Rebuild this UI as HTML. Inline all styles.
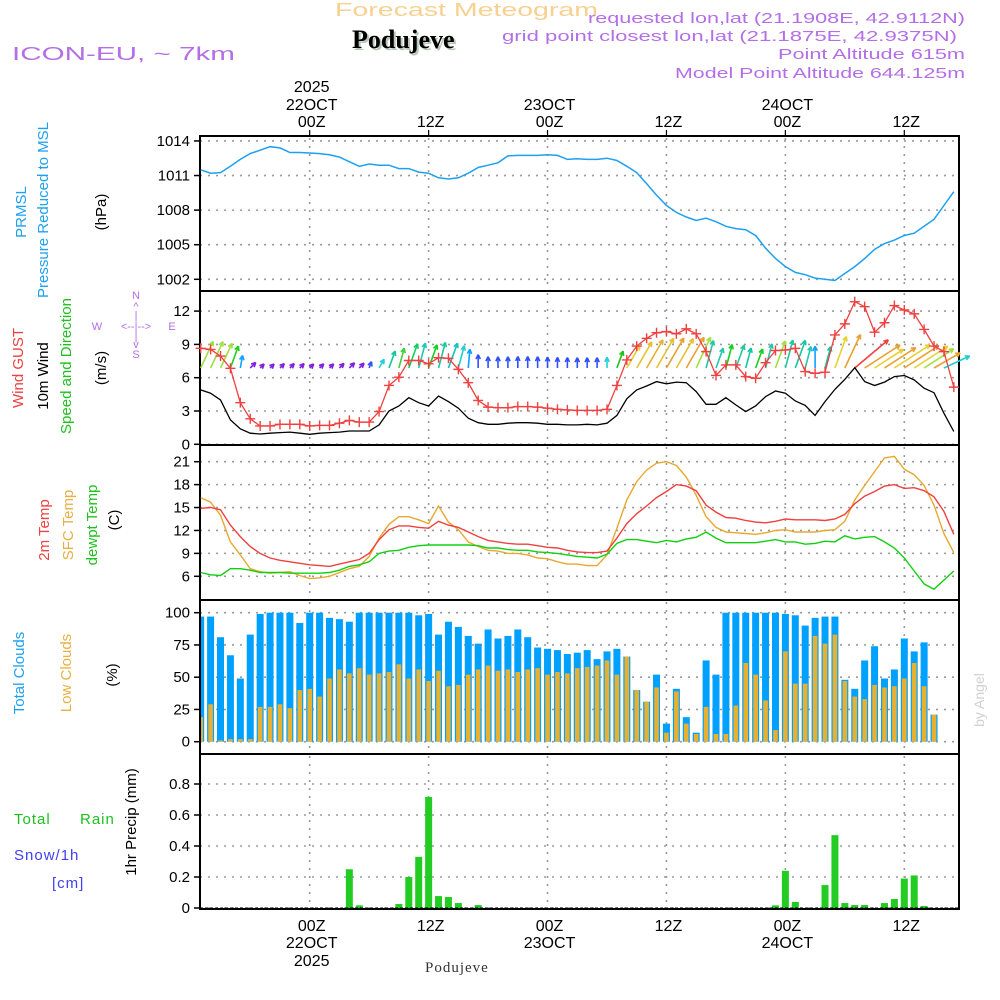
<!DOCTYPE html>
<html><head><meta charset="utf-8"><title>Forecast Meteogram Podujeve</title>
<style>
html,body{margin:0;padding:0;background:#fff;}
svg{display:block;font-family:"Liberation Sans",sans-serif;}
</style></head>
<body>
<svg id="chart" width="1000" height="1000" viewBox="0 0 1000 1000" xmlns="http://www.w3.org/2000/svg">
<rect x="0" y="0" width="1000" height="1000" fill="#fff"/>
<text x="335" y="16" font-size="18" fill="#f8d090" textLength="263" lengthAdjust="spacingAndGlyphs">Forecast Meteogram</text>
<text x="354" y="50" font-size="26" font-weight="bold" font-family="Liberation Serif,serif" fill="#b8c8b8">Podujeve</text>
<text x="352" y="48" font-size="26" font-weight="bold" font-family="Liberation Serif,serif" fill="#000">Podujeve</text>
<g fill="#b46ee6" font-size="15">
<text x="588" y="23" textLength="377" lengthAdjust="spacingAndGlyphs">requested lon,lat (21.1908E, 42.9112N)</text>
<text x="502" y="41" textLength="455" lengthAdjust="spacingAndGlyphs">grid point closest lon,lat (21.1875E, 42.9375N)</text>
<text x="778" y="59" textLength="187" lengthAdjust="spacingAndGlyphs">Point Altitude 615m</text>
<text x="675" y="78" textLength="290" lengthAdjust="spacingAndGlyphs">Model Point Altitude 644.125m</text>
</g>
<text x="12" y="60" font-size="18" fill="#b46ee6" textLength="223" lengthAdjust="spacingAndGlyphs">ICON-EU, ~ 7km</text>
<g id="axes"></g>
<g id="plots"></g>
<g id="labels" font-size="14"></g>
</svg>
<script>
// ---- data (hourly from hour -11 relative to 22OCT 00Z) ----
const startHour = -11;
const pressure = [1011.5,1011.2,1011.25,1011.8,1012.4,1012.9,1013.2,1013.5,1013.4,1013.0,1013.0,
1012.95,1012.9,1012.8,1012.6,1012.2,1011.8,1012.0,1011.9,1011.9,1011.6,1011.6,1011.3,
1011.2,1010.8,1010.7,1010.8,1011.2,1011.7,1011.9,1012.1,1012.7,1012.75,1012.75,1012.75,
1012.8,1012.75,1012.4,1012.45,1012.4,1012.4,1012.5,1012.3,1011.8,1011.25,1010.3,1009.3,
1008.4,1007.8,1007.4,1007.1,1007.3,1007.0,1006.6,1006.4,1006.3,1005.8,1004.7,1003.8,
1003.1,1002.6,1002.4,1002.1,1002.0,1001.9,1002.5,1003.1,1003.8,1004.6,1005.1,1005.4,
1005.8,1006.0,1006.6,1007.2,1008.4,1009.6];
const wind10m = [4.9,4.6,4.0,2.2,1.4,1.0,0.93,1.0,1.05,1.1,1.0,
0.9,1.0,1.05,1.1,1.2,1.2,1.2,1.75,3.0,3.45,4.2,3.75,
3.45,4.35,3.85,3.25,2.35,1.95,1.8,1.8,1.9,1.95,1.95,1.9,
1.8,1.8,1.75,1.75,1.8,1.75,1.9,2.6,4.1,4.9,5.25,5.65,
5.45,5.6,5.55,4.75,3.6,3.6,4.2,3.55,2.95,3.45,4.3,4.8,
4.6,3.9,3.5,2.6,3.85,4.95,5.85,6.9,5.65,5.3,5.6,6.1,
6.2,5.8,5.05,4.65,2.8,1.15];
const gust = [8.65,8.55,7.95,6.85,3.75,2.3,1.65,1.65,1.8,1.8,1.8,
1.65,1.7,1.7,1.9,2.15,2.0,2.0,2.95,5.3,6.05,7.55,7.55,
7.25,7.8,7.75,6.75,5.55,3.95,3.35,3.3,3.3,3.4,3.4,3.35,
3.25,3.15,3.1,3.05,3.05,3.05,3.15,5.3,7.6,8.85,9.55,10.05,
10.15,9.95,10.4,9.95,8.35,6.2,7.15,7.15,6.1,5.95,7.35,8.45,
8.5,8.65,6.55,6.4,6.5,9.85,10.85,12.85,12.4,10.1,10.95,12.5,
12.1,11.75,10.35,8.85,8.35,5.15];
const windDir = [25,25,25,20,10,45,45,45,45,45,45,
45,45,45,45,45,45,20,30,20,15,20,15,
20,15,20,15,5,0,0,0,0,0,0,0,
0,0,0,0,0,0,0,20,30,30,30,30,
30,30,30,25,15,20,15,20,15,20,15,20,
15,20,15,0,15,20,25,50,57,57,57,57,
57,57,57,60,65,70];
const windColor = ['#a0e040','#a0e040','#a0e040','#20d020','#10a0ff','#8020e0','#8020e0','#8020e0','#8020e0','#8020e0','#8020e0',
'#8020e0','#8020e0','#8020e0','#8020e0','#8020e0','#8020e0','#3050ff','#20d0d0','#10c8a0','#40d040','#10d060','#20c8b0',
'#10d020','#20c8a0','#10c0c0','#20d0d0','#10a0ff','#3050ff','#3050ff','#3050ff','#3050ff','#3050ff','#3050ff','#3050ff',
'#3050ff','#3050ff','#3050ff','#3050ff','#3050ff','#3050ff','#20d0d0','#20c020','#e8d030','#e8c030','#e8b030','#e8c030',
'#e8a030','#e8c030','#e8a030','#a0e040','#20c8a0','#20c8b0','#10d020','#20c8a0','#10c8a0','#10d020','#20c8b0','#a0e040',
'#20c8a0','#10c8a0','#20c8b0','#10a0ff','#10c8a0','#e8d030','#e8a030','#f04040','#e8a030','#e8d030','#e8a030','#e8d030',
'#e8a030','#e8d030','#a0e040','#e8a030','#20d0d0','#20d0d0'];
const temp2m = [14.9,15.0,14.7,12.7,11.2,9.9,9.0,8.4,8.1,7.9,7.7,
7.5,7.4,7.3,7.6,7.9,8.2,9.0,10.8,12.1,12.6,12.6,12.4,
12.3,13.2,12.7,12.4,11.8,11.2,10.7,10.5,10.3,10.2,10.2,10.0,
9.8,9.7,9.4,9.2,9.1,9.1,9.3,11.0,12.9,14.2,15.2,16.3,
17.1,18.0,17.8,17.2,15.3,14.4,13.7,13.6,13.3,13.1,13.0,13.2,
13.5,13.4,13.4,13.4,13.3,13.5,14.1,15.5,16.5,17.1,17.8,18.0,
17.5,17.6,17.2,16.4,14.5,11.5];
const tempSfc = [16.3,15.7,14.0,10.5,8.8,7.0,6.6,6.4,6.5,6.6,6.1,
5.7,5.8,6.0,6.5,7.0,7.3,8.6,11.0,12.8,13.8,13.8,13.4,
12.9,15.2,13.1,12.1,10.5,9.9,9.4,9.3,9.0,9.0,8.8,8.4,
8.3,7.9,7.6,7.6,7.4,7.4,8.8,12.3,16.0,18.4,19.9,20.8,
21.0,20.5,19.0,16.6,13.8,12.4,11.8,11.7,11.6,11.5,11.7,12.0,
12.1,11.8,11.8,11.8,12.0,12.1,13.2,16.0,17.9,19.7,21.5,21.7,
20.0,19.3,17.9,15.3,11.6,9.1];
const dewpt = [6.5,6.2,6.1,7.0,7.0,6.8,6.5,6.5,6.5,6.4,6.4,
6.4,6.4,6.5,6.8,7.3,7.5,7.9,9.0,9.3,9.4,9.8,10.0,
10.1,10.1,10.1,10.1,10.1,10.0,9.7,9.7,9.5,9.4,9.4,9.2,
9.1,9.0,8.8,8.6,8.5,8.4,8.9,10.3,10.8,10.8,10.6,10.4,
10.7,10.5,10.9,11.1,11.8,11.0,10.4,10.4,10.4,10.4,10.6,10.8,
10.5,10.5,10.2,10.3,10.6,10.5,11.3,10.9,11.1,11.2,10.5,9.7,
8.4,6.7,5.0,4.3,5.5,6.7];
const totalClouds = [97,97,81,67,49,83,99,100,100,100,92,
100,100,96,95,93,100,100,100,100,100,100,98,
99,83,93,89,82,76,87,80,82,87,81,73,
72,71,68,69,71,64,70,72,66,40,31,52,14,41,19,7,
63,52,100,100,100,100,100,100,99,98,90,96,
97,97,48,41,63,74,49,56,80,70,77,21,0];
const lowClouds = [19,29,1,2,2,2,27,27,29,26,40,
41,35,49,56,53,57,52,53,54,60,49,56,
47,55,43,44,52,56,59,55,56,54,56,57,
52,54,53,57,58,59,63,52,66,40,31,42,7,39,14,6,
27,6,6,28,61,52,32,9,70,45,45,82,
76,83,47,35,33,44,42,43,49,61,43,21,0];
const precipHours = [4,5,9,10,11,12,13,14,15,17,47,48,49,52,53,54,55,56,58,59,60,61,62];
const precipValues = [0.25,0.017,0.026,0.20,0.33,0.716,0.077,0.071,0.032,0.019,0.017,0.24,0.039,0.148,0.47,0.032,0.019,0.019,0.032,0.058,0.19,0.21,0.013];
const pressTicks = [1014,1011,1008,1005,1002];
const windTicks = [12,9,6,3,0];
const tempTicks = [21,18,15,12,9,6];
const cloudTicks = [100,75,50,25,0];
const precipTicks = [0.8,0.6,0.4,0.2,0];
const precipTickLabels = ['0.8','0.6','0.4','0.2','0'];
const timeTickHours = [0,12,24,36,48,60];
const timeTickLabels = ['00Z','12Z','00Z','12Z','00Z','12Z'];
const dayLabels = ['22OCT','','23OCT','','24OCT',''];

// ---- scales ----
const NS='http://www.w3.org/2000/svg';
const X0=200, X1=959;
const xH = h => 309.7 + 9.91*h;
const panels = {
  press:{top:136,bottom:291, y:v=>279.3-(v-1002)*11.53},
  wind:{top:291,bottom:445, y:v=>444.3-v*11.1},
  temp:{top:445,bottom:600, y:v=>576.3-(v-6)*7.64},
  cloud:{top:600,bottom:754, y:v=>741.7-v*1.29},
  precip:{top:754,bottom:909, y:v=>908-v*155}
};
function el(tag, attrs, parent){const e=document.createElementNS(NS,tag);for(const k in attrs)e.setAttribute(k,attrs[k]);parent.appendChild(e);return e;}
const axes=document.getElementById('axes'), plots=document.getElementById('plots'), labels=document.getElementById('labels');

function panelGrid(p, ticks, tickLabels, name){
  const P=panels[p];
  ticks.forEach((t,i)=>{
    const y=P.y(t);
    const g=el('line',{x1:X0,x2:X1,y1:y,y2:y,stroke:'#9a9a9a','stroke-width':1.6,'stroke-dasharray':'2,6'},axes);
    
    
    const tk=el('line',{x1:X0-6,x2:X0,y1:y,y2:y,stroke:'#000','stroke-width':1.5},axes);
    
    
    const tx=el('text',{x:X0-10,y:y+5,'text-anchor':'end','font-size':15,fill:'#000'},axes);
    tx.textContent = tickLabels ? tickLabels[i] : String(t);
    
    
  });
  timeTickHours.forEach(h=>{
    const x=xH(h);
    const v=el('line',{x1:x,x2:x,y1:P.top+2,y2:P.bottom-2,stroke:'#9a9a9a','stroke-width':1.6,'stroke-dasharray':'2,6'},axes);
    
    
  });
  const r=el('rect',{x:X0,y:P.top,width:X1-X0,height:P.bottom-P.top,fill:'none',stroke:'#000','stroke-width':2},axes);
  
  
}
panelGrid('press',pressTicks,null,'pressure');
panelGrid('wind',windTicks,null,'wind');
panelGrid('temp',tempTicks,null,'temperature');
panelGrid('cloud',cloudTicks,null,'clouds');
panelGrid('precip',precipTicks,precipTickLabels,'precip');

// time axis labels top/bottom
timeTickHours.forEach((h,i)=>{
  const x=xH(h);
  const t1=el('line',{x1:x,x2:x,y1:130,y2:136,stroke:'#000','stroke-width':1.2},axes);
  
  
  const a=el('text',{x:x+2,y:127,'text-anchor':'middle','font-size':16},axes);
  a.textContent=timeTickLabels[i];
  
  
  const b=el('text',{x:x+2,y:931,'text-anchor':'middle','font-size':16},axes);
  b.textContent=timeTickLabels[i];
  
  
  if(dayLabels[i]){
    const d=el('text',{x:x+2,y:110,'text-anchor':'middle','font-size':16},axes);
    d.textContent=dayLabels[i];
    
    
    const d2=el('text',{x:x+2,y:948,'text-anchor':'middle','font-size':16},axes);
    d2.textContent=dayLabels[i];
    
    
  }
});
{
  const y1=el('text',{x:xH(0)+2,y:92,'text-anchor':'middle','font-size':16},axes);y1.textContent='2025';
  
  
  const y2=el('text',{x:xH(0)+2,y:966,'text-anchor':'middle','font-size':16},axes);y2.textContent='2025';
  
  
}

function linePath(arr, yf){
  return arr.map((v,i)=>(i?'L':'M')+xH(startHour+i).toFixed(1)+','+yf(v).toFixed(1)).join(' ');
}
// pressure
const pl=el('path',{d:linePath(pressure,panels.press.y),fill:'none',stroke:'#1ea0f0','stroke-width':1.5},plots);



// wind arrows (length scaled by gust)
gust.forEach((s,i)=>{
  const h=startHour+i; if(h>64) return;
  const x=xH(h), y=368, L=s*3.4, a=windDir[i]*Math.PI/180;
  const tx=x+L*Math.sin(a), ty=y-L*Math.cos(a);
  const g=el('g',{stroke:windColor[i],'stroke-width':1.6,fill:'none'},plots);
  
  
  el('line',{x1:x,y1:y,x2:tx,y2:ty},g);
  const hl=5;
  [a+Math.PI-0.45, a+Math.PI+0.45].forEach(b=>{
    el('line',{x1:tx,y1:ty,x2:tx+hl*Math.sin(b),y2:ty-hl*Math.cos(b)},g);
  });
});
// 10m wind black line
const wl=el('path',{d:linePath(wind10m,panels.wind.y),fill:'none',stroke:'#000','stroke-width':1.3},plots);


// gust line + markers
const gl=el('path',{d:linePath(gust,panels.wind.y),fill:'none',stroke:'#f04040','stroke-width':1.3},plots);


gust.forEach((v,i)=>{
  const x=xH(startHour+i), y=panels.wind.y(v);
  const m=el('path',{d:`M${x-5},${y}H${x+5}M${x},${y-5}V${y+5}`,stroke:'#f04040','stroke-width':1.4},plots);
  
  
});

// temperatures
[[tempSfc,'#e8a830','sfc-temp-line'],[temp2m,'#f04040','2m-temp-line'],[dewpt,'#10d010','dewpoint-line']].forEach(([arr,c,n])=>{
  const p=el('path',{d:linePath(arr,panels.temp.y),fill:'none',stroke:c,'stroke-width':1.4},plots);
  
  
});

// clouds
totalClouds.forEach((v,i)=>{
  const x=xH(startHour+i), y0=panels.cloud.y(0);
  const xl=Math.max(X0+1,x-3.5), w=Math.max(0,x+3.5-xl);
  const b=el('rect',{x:xl,y:panels.cloud.y(v),width:w,height:y0-panels.cloud.y(v),fill:'#00a0ff'},plots);
  
  
  const lv=lowClouds[i];
  const xl2=Math.max(X0+1,x-2.3), w2=Math.max(0,x+2.3-xl2);
  const o=el('rect',{x:xl2,y:panels.cloud.y(lv),width:w2,height:y0-panels.cloud.y(lv),fill:'#e8b030'},plots);
  
  
});

// precip
precipHours.forEach((h,i)=>{
  const x=xH(h), v=precipValues[i];
  const r=el('rect',{x:x-3.5,y:panels.precip.y(v),width:7,height:panels.precip.y(0)-panels.precip.y(v),fill:'#22cc22'},plots);
  
  
});
const zl=el('line',{x1:X0,x2:X1,y1:908,y2:908,stroke:'#000','stroke-width':1,'stroke-dasharray':'3,2'},plots);



// side labels (rotated)
function vlabel(text,x,y,color,name,size){
  const t=el('text',{x:x,y:y,transform:`rotate(-90 ${x} ${y})`,'text-anchor':'middle',fill:color,'font-size':size||15},labels);
  t.textContent=text;
  
  
}
vlabel('PRMSL',26,212,'#1ea0f0','prmsl-label');
vlabel('Pressure Reduced to MSL',48,210,'#1ea0f0','pressure-label');
vlabel('(hPa)',106,212,'#000','pressure-unit');
vlabel('Wind GUST',23,368,'#f04040','gust-label');
vlabel('10m Wind',48,376,'#000','wind-label');
vlabel('Speed and Direction',71,366,'#20c020','wind-direction-label');
vlabel('(m/s)',106,368,'#000','wind-unit');
vlabel('2m Temp',49,530,'#f04040','temp2m-label');
vlabel('SFC Temp',73,525,'#e8b040','sfc-temp-label');
vlabel('dewpt Temp',97,525,'#20c020','dewpt-label');
vlabel('(C)',119,520,'#000','temp-unit');
vlabel('Total Clouds',24,673,'#1ea0f0','total-clouds-label');
vlabel('Low Clouds',71,673,'#e8b040','low-clouds-label');
vlabel('(%)',117,675,'#000','clouds-unit');
vlabel('1hr Precip (mm)',136,822,'#000','precip-unit');
vlabel('by Angel',984,700,'#d0d0d0','credit',14);

function hlabel(text,x,y,color,name,size,family){
  const t=el('text',{x:x,y:y,fill:color,'font-size':size||15,'letter-spacing':1},labels);
  if(family) t.setAttribute('font-family',family);
  t.textContent=text;
  
  
}
hlabel('Total',14,824,'#20c020','total-rain-label');
hlabel('Rain',80,824,'#20c020','rain-label');
hlabel('Snow/1h',14,860,'#4040f0','snow-label');
hlabel('[cm]',52,888,'#4040f0','snow-unit');
hlabel('Podujeve',425,972,'#333','bottom-location-label',15,'Liberation Serif,serif');

// compass
[['N',136,299],['^',136,310],['|',136,319],['W',97,330],['<--|-->',136,330],['E',172,330],['|',136,340],['v',136,348],['S',136,358]].forEach(([t,x,y])=>{
  const c=el('text',{x:x,y:y,'text-anchor':'middle',fill:'#b46ee6','font-size':11},labels);
  c.textContent=t;
  
  
});
</script>
</body></html>
